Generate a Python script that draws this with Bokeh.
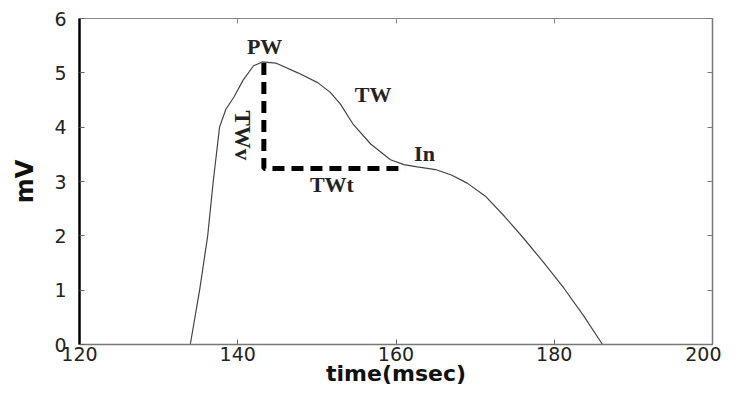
from bokeh.plotting import figure
from bokeh.models import Range1d, LinearAxis, FixedTicker, Label, CustomJSTickFormatter
from bokeh.embed import file_html
from bokeh.resources import INLINE

# ---- data ----
time_ms = [134.0, 135.2, 136.2, 136.9, 137.7, 138.5, 139.5, 140.7, 142.0, 143.1,
           144.8, 147.6, 150.1, 151.7, 153.0, 154.6, 156.8, 159.3, 161.0, 162.7,
           165.0, 167.0, 169.0, 171.3, 173.7, 176.1, 178.6, 181.2, 183.7, 186.1]
mv = [0.0, 1.02, 2.0, 3.0, 4.0, 4.33, 4.55, 4.87, 5.13, 5.2,
      5.18, 5.0, 4.82, 4.64, 4.42, 4.05, 3.69, 3.4, 3.31, 3.27,
      3.22, 3.12, 2.97, 2.73, 2.36, 1.96, 1.52, 1.04, 0.53, 0.0]

dash_x = [143.3, 143.3, 161.2]
dash_y = [5.18, 3.24, 3.24]

label_text = ["PW", "TW", "In", "TWt"]
label_x = [143.4, 157.1, 163.6, 151.9]
label_y = [5.49, 4.6, 3.51, 2.95]
rot_text = "TWv"
rot_x, rot_y = 140.6, 3.85

x_ticks = [120, 140, 160, 180, 200]
y_ticks = [0, 1, 2, 3, 4, 5, 6]
x_title = "time(msec)"
y_title = "mV"

p = figure(width=721, height=389, output_backend="svg", toolbar_location=None,
           x_range=Range1d(120, 200), y_range=Range1d(0, 6),
           min_border_left=79, min_border_top=18, min_border_right=9, min_border_bottom=45)
p.grid.visible = False
p.outline_line_color = "#888888"
p.background_fill_color = "white"

tick_font = "DejaVu Sans"
for ax in (p.xaxis[0], p.yaxis[0]):
    ax.major_label_text_font = tick_font
    ax.major_label_text_font_size = "19px"
    ax.major_label_text_color = "#222222"
    ax.major_tick_in = 5
    ax.major_tick_out = 0
    ax.minor_tick_line_color = None
    ax.major_tick_line_color = "#666666"
    ax.axis_label_text_font = tick_font
    ax.axis_label_text_font_style = "bold"
    ax.axis_label_text_color = "#111111"

p.xaxis.ticker = FixedTicker(ticks=x_ticks)
p.yaxis.ticker = FixedTicker(ticks=y_ticks)
p.xaxis.axis_label = x_title
p.xaxis.axis_label_text_font_size = "22px"
p.xaxis.major_label_standoff = 2
p.xaxis.axis_label_standoff = -3
p.yaxis.axis_label = y_title
p.yaxis.axis_label_text_font_size = "24px"
p.yaxis.major_label_standoff = 13
p.yaxis.axis_label_standoff = 12
p.yaxis.axis_line_color = "black"
p.yaxis.axis_line_width = 2.5
p.xaxis.axis_line_color = "#777777"
p.xaxis.axis_line_width = 1.5

blank = CustomJSTickFormatter(code="return ''")
top = LinearAxis(ticker=FixedTicker(ticks=x_ticks), formatter=blank,
                 major_label_text_font_size="6px",
                 major_tick_in=5, major_tick_out=0, minor_tick_line_color=None,
                 axis_line_color="#888888", major_tick_line_color="#888888")
right = LinearAxis(ticker=FixedTicker(ticks=y_ticks), formatter=blank,
                   major_label_text_font_size="6px",
                   major_tick_in=5, major_tick_out=0, minor_tick_line_color=None,
                   axis_line_color="#777777", axis_line_width=1.5,
                   major_tick_line_color="#777777")
p.add_layout(top, "above")
p.add_layout(right, "right")

p.line(time_ms, mv, line_color="#444444", line_width=1.2)
p.line(dash_x, dash_y, line_color="black", line_width=5, line_dash="12 7")

for t, x, y in zip(label_text, label_x, label_y):
    p.add_layout(Label(x=x, y=y, text=t, text_font="Liberation Serif",
                       text_font_style="bold", text_font_size="22px",
                       text_color="#222222", text_align="center",
                       text_baseline="middle"))
p.add_layout(Label(x=rot_x, y=rot_y, text=rot_text, text_font="Liberation Serif",
                   text_font_style="bold", text_font_size="23px", angle=-1.5708,
                   text_color="#222222", text_align="center", text_baseline="middle"))

open("out.html", "w").write(file_html(p, INLINE))
